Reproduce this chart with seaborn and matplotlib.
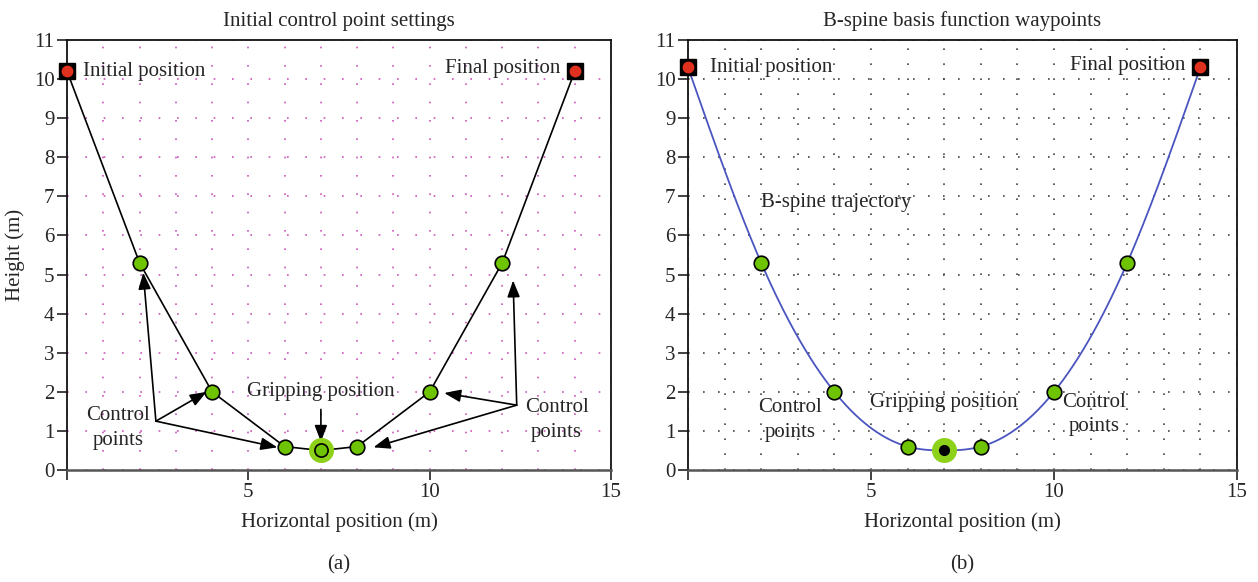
import numpy as np
import pandas as pd
import matplotlib
matplotlib.use("Agg")
import matplotlib.pyplot as plt
from matplotlib.ticker import MultipleLocator
import seaborn as sns

# Waypoints of the grasping trajectory
x_pts = [0, 2, 4, 6, 7, 8, 10, 12, 14]
y_ctrl = [10.2, 5.3, 2.0, 0.6, 0.5, 0.6, 2.0, 5.3, 10.2]
y_way = [10.3, 5.3, 2.0, 0.6, 0.5, 0.6, 2.0, 5.3, 10.3]
x_ticks = [0, 5, 10, 15]
x_tick_labels = ["", "5", "10", "15"]
y_ticks = list(range(0, 12))

GREEN = "#6ec400"
LIME = "#8ed11a"
RED = "#e0301e"
BLUE = "#4a55c0"
FONT = "Liberation Serif"
FS = 15

sns.set_style("white")
plt.rcParams["font.family"] = [FONT, "DejaVu Serif"]


def natural_spline(x, y, xs):
    """Natural cubic spline through (x, y), evaluated at xs."""
    x = np.asarray(x, float)
    y = np.asarray(y, float)
    n = len(x)
    h = np.diff(x)
    A = np.zeros((n, n))
    b = np.zeros(n)
    A[0, 0] = A[-1, -1] = 1.0
    for i in range(1, n - 1):
        A[i, i - 1] = h[i - 1]
        A[i, i] = 2 * (h[i - 1] + h[i])
        A[i, i + 1] = h[i]
        b[i] = 6 * ((y[i + 1] - y[i]) / h[i] - (y[i] - y[i - 1]) / h[i - 1])
    M = np.linalg.solve(A, b)
    idx = np.clip(np.searchsorted(x, xs) - 1, 0, n - 2)
    x0, x1 = x[idx], x[idx + 1]
    hh = x1 - x0
    t0, t1 = x1 - xs, xs - x0
    return (M[idx] * t0 ** 3 / (6 * hh) + M[idx + 1] * t1 ** 3 / (6 * hh)
            + (y[idx] / hh - M[idx] * hh / 6) * t0
            + (y[idx + 1] / hh - M[idx + 1] * hh / 6) * t1)


def style_axes(ax, grid_color, dash):
    ax.set_xlim(0, 15)
    ax.set_ylim(0, 11)
    ax.set_xticks(x_ticks)
    ax.set_xticklabels(x_tick_labels)
    ax.set_yticks(y_ticks)
    ax.xaxis.set_minor_locator(MultipleLocator(1))
    ax.tick_params(axis="both", which="major", direction="out", length=7,
                   width=1.3, labelsize=FS, pad=2, color="#333333",
                   bottom=True, left=True, top=False, right=False)
    ax.tick_params(axis="both", which="minor", length=0)
    ax.grid(True, which="both", color=grid_color, linestyle=dash, linewidth=1.2)
    ax.set_axisbelow(True)
    for side in ["left", "top", "right"]:
        ax.spines[side].set_color("#111111")
        ax.spines[side].set_linewidth(1.3)
    ax.spines["bottom"].set_color("#555555")
    ax.spines["bottom"].set_linewidth(1.8)
    ax.set_xlabel("Horizontal position (m)", fontsize=FS, labelpad=8)


def end_markers(ax, ys):
    for xi, yi in [(x_pts[0], ys[0]), (x_pts[-1], ys[-1])]:
        ax.plot(xi, yi, marker="s", ms=11, color="black", clip_on=False, zorder=5)
        ax.plot(xi, yi, marker="o", ms=7.5, color=RED, mec=RED, clip_on=False, zorder=6)


fig = plt.figure(figsize=(12.58, 5.82), dpi=100)
ax1 = fig.add_axes([0.0533, 0.1924, 0.4324, 0.7388])
ax2 = fig.add_axes([0.5469, 0.1924, 0.4364, 0.7388])

# ---------------- (a) control polygon ----------------
style_axes(ax1, "#cc55bb", (0, (1, 10)))
df_a = pd.DataFrame({"x": x_pts, "y": y_ctrl})
sns.lineplot(data=df_a, x="x", y="y", ax=ax1, color="black", lw=1.2,
             sort=False, zorder=3)
mid = df_a.iloc[1:-1].drop(index=4)
sns.scatterplot(data=mid, x="x", y="y", ax=ax1, color=GREEN, edgecolor="black",
                linewidth=1.2, s=110, zorder=4)
ax1.plot(x_pts[4], y_ctrl[4], marker="o", ms=17, color=LIME, mec=LIME, zorder=4)
ax1.plot(x_pts[4], y_ctrl[4], marker="o", ms=9.5, color=GREEN, mec="black",
         mew=1.2, zorder=5)
end_markers(ax1, y_ctrl)

ax1.set_title("Initial control point settings", fontsize=FS, pad=10)
ax1.set_ylabel("Height (m)", fontsize=FS, labelpad=6)

ax1.text(0.45, y_ctrl[0], "Initial position", fontsize=FS, va="center", ha="left")
ax1.text(13.6, y_ctrl[-1] + 0.08, "Final position", fontsize=FS, va="center", ha="right")
ax1.text(7.0, 2.0, "Gripping position", fontsize=FS, va="center", ha="center")
ax1.text(1.4, 1.08, "Control\npoints", fontsize=FS, va="center", ha="center",
         linespacing=1.4)
ax1.text(13.5, 1.28, "Control\npoints", fontsize=FS, va="center", ha="center",
         linespacing=1.4)

arrow_kw = dict(arrowstyle="-|>,head_length=1.0,head_width=0.38", color="black",
                lw=1.2, shrinkA=0, shrinkB=0)
ax1.annotate("", xy=(7.0, 0.72), xytext=(7.0, 1.55), arrowprops=arrow_kw)
left_tail = (2.45, 1.25)
for head in [(2.1, 5.05), (3.85, 2.0), (5.8, 0.58)]:
    ax1.annotate("", xy=head, xytext=left_tail, arrowprops=arrow_kw)
right_tail = (12.4, 1.66)
for head in [(12.3, 4.85), (10.4, 1.97), (8.45, 0.58)]:
    ax1.annotate("", xy=head, xytext=right_tail, arrowprops=arrow_kw)

# ---------------- (b) spline trajectory ----------------
style_axes(ax2, "#444444", (0, (1, 8)))
xs = np.linspace(x_pts[0], x_pts[-1], 400)
df_curve = pd.DataFrame({"x": xs, "y": natural_spline(x_pts, y_way, xs)})
sns.lineplot(data=df_curve, x="x", y="y", ax=ax2, color=BLUE, lw=1.3, zorder=3)
df_b = pd.DataFrame({"x": x_pts, "y": y_way})
mid_b = df_b.iloc[1:-1].drop(index=4)
sns.scatterplot(data=mid_b, x="x", y="y", ax=ax2, color=GREEN, edgecolor="black",
                linewidth=1.2, s=110, zorder=4)
ax2.plot(x_pts[4], y_way[4], marker="o", ms=17, color=LIME, mec=LIME, zorder=4)
ax2.plot(x_pts[4], y_way[4], marker="o", ms=7, color="black", zorder=5)
end_markers(ax2, y_way)

ax2.set_title("B-spine basis function waypoints", fontsize=FS, pad=10)
ax2.set_ylabel("")

ax2.text(0.6, y_way[0], "Initial position", fontsize=FS, va="center", ha="left")
ax2.text(13.6, y_way[-1] + 0.05, "Final position", fontsize=FS, va="center", ha="right")
ax2.text(2.0, 6.85, "B-spine trajectory", fontsize=FS, va="center", ha="left")
ax2.text(7.0, 1.72, "Gripping position", fontsize=FS, va="center", ha="center")
ax2.text(2.8, 1.28, "Control\npoints", fontsize=FS, va="center", ha="center",
         linespacing=1.4)
ax2.text(11.1, 1.42, "Control\npoints", fontsize=FS, va="center", ha="center",
         linespacing=1.4)

fig.text(0.2695, 0.03, "(a)", fontsize=FS, ha="center", va="center")
fig.text(0.7651, 0.03, "(b)", fontsize=FS, ha="center", va="center")

fig.savefig("out.png", dpi=100)
